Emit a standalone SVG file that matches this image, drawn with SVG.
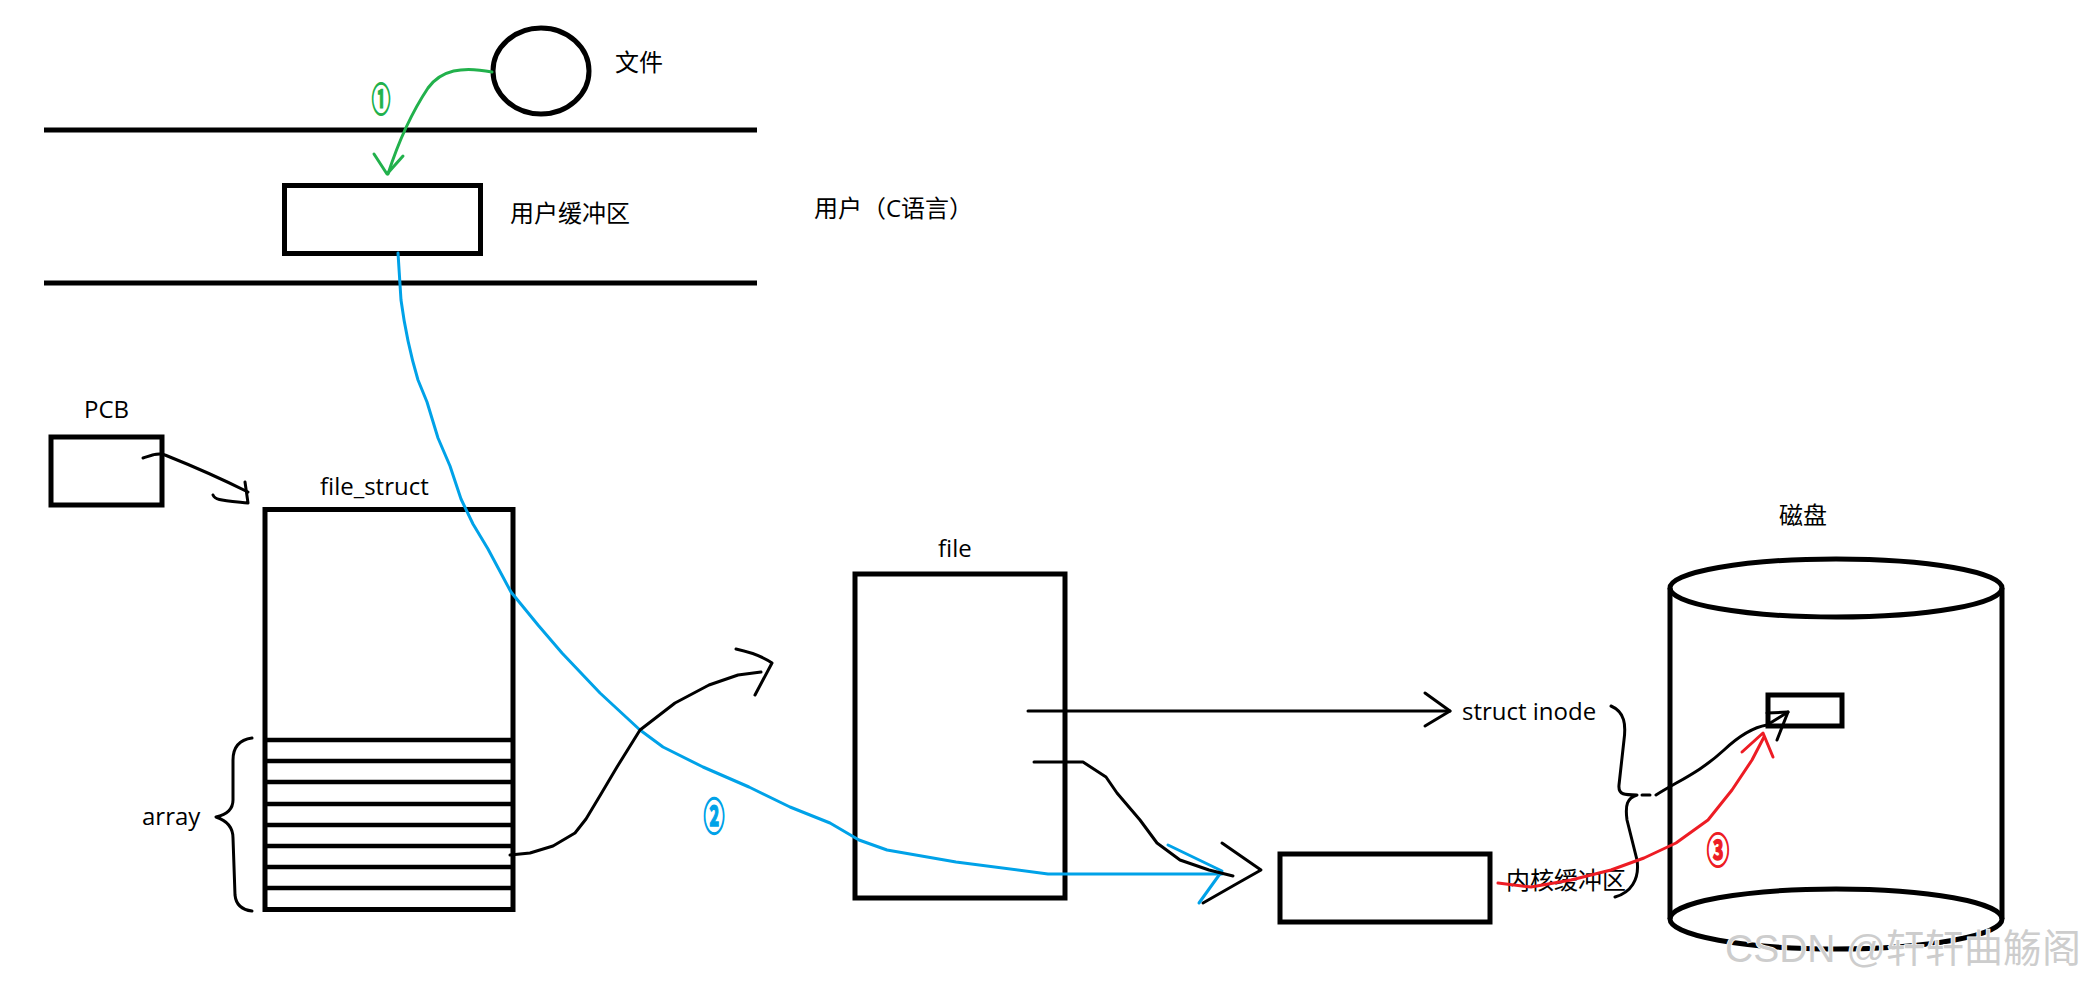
<svg xmlns="http://www.w3.org/2000/svg" width="2082" height="986" viewBox="0 0 2082 986">
<style>
.box{fill:none;stroke:#000;stroke-width:5}
.thin{fill:none;stroke:#000;stroke-width:3;stroke-linejoin:round;stroke-linecap:round}
.g{fill:none;stroke:#22b14c;stroke-width:3;stroke-linejoin:round;stroke-linecap:round}
.b{fill:none;stroke:#00a2e8;stroke-width:3;stroke-linejoin:round;stroke-linecap:round}
.r{fill:none;stroke:#ed1c24;stroke-width:3;stroke-linejoin:round;stroke-linecap:round}
.t{font-family:"Open Sans","Noto Sans CJK SC",sans-serif;font-size:24px;fill:#000}
.n{font-family:"Noto Sans CJK SC",sans-serif;font-size:30px;font-weight:700;text-anchor:middle;dominant-baseline:central;stroke-width:1.2}
.wm{font-family:"Liberation Sans","Noto Sans CJK SC",sans-serif;font-size:39px;fill:#cdcdcd;stroke:#fff;stroke-width:1.5;paint-order:stroke}
</style>
<rect width="2082" height="986" fill="#fff"/>

<g id="user-space">
<line x1="44" y1="130" x2="757" y2="130" stroke="#000" stroke-width="5"/>
<line x1="44" y1="283" x2="757" y2="283" stroke="#000" stroke-width="5"/>
<text class="t" x="814" y="217">用户（C语言）</text>
</g>

<g id="file-disk">
<ellipse cx="541" cy="71" rx="48" ry="43" class="box"/>
<text class="t" x="615" y="71">文件</text>
</g>

<g id="user-buffer">
<rect x="284.5" y="185.5" width="196" height="68" class="box"/>
<text class="t" x="510" y="222">用户缓冲区</text>
</g>

<g id="pcb">
<text class="t" x="84" y="418">PCB</text>
<rect x="51" y="437" width="111" height="68" class="box"/>
</g>

<g id="file_struct">
<text class="t" x="320" y="495">file_struct</text>
<rect x="265" y="509.5" width="248" height="400" class="box"/>
<g stroke="#000" stroke-width="4.5">
<line x1="265" y1="740" x2="513" y2="740"/>
<line x1="265" y1="761" x2="513" y2="761"/>
<line x1="265" y1="782" x2="513" y2="782"/>
<line x1="265" y1="804" x2="513" y2="804"/>
<line x1="265" y1="825" x2="513" y2="825"/>
<line x1="265" y1="846" x2="513" y2="846"/>
<line x1="265" y1="867" x2="513" y2="867"/>
<line x1="265" y1="888" x2="513" y2="888"/>
</g>
<path class="thin" d="M252,738 C238,740 233,748 233,760 L233,800 C233,810 225,815 216,817 C225,820 233,826 233,838 L235,895 C236,905 243,910 252,911"/>
<text class="t" x="142" y="825">array</text>
</g>

<g id="file">
<text class="t" x="938" y="557">file</text>
<rect x="855" y="574" width="210" height="324" class="box"/>
</g>

<g id="struct-inode">
<text class="t" x="1462" y="720">struct inode</text>
<path class="thin" d="M1611,706 C1625,712 1626,725 1624,740 L1619,785 C1618,795 1625,795 1637,795 C1627,798 1625,805 1627,820 L1637,860 C1640,880 1630,893 1615,897"/>
</g>

<g id="kernel-buffer">
<rect x="1280" y="854" width="210" height="68" class="box"/>
<text class="t" x="1506" y="889">内核缓冲区</text>
</g>

<g id="disk">
<text class="t" x="1779" y="524">磁盘</text>
<line x1="1670" y1="588" x2="1670" y2="919" stroke="#000" stroke-width="5"/>
<line x1="2002" y1="588" x2="2002" y2="919" stroke="#000" stroke-width="5"/>
<ellipse cx="1836" cy="588" rx="166" ry="29" class="box"/>
<ellipse cx="1836" cy="919" rx="166" ry="30" class="box"/>
<rect x="1768" y="695" width="74" height="31" class="box"/>
</g>

<g id="connectors">
<path class="g" d="M492,72 C462,66 441,70 428,88 C412,112 399,140 388,174"/>
<path class="g" d="M374,154 L387,174 L403,156"/>
<text class="n" fill="#22b14c" stroke="#22b14c" transform="translate(381,97) scale(0.62,1.15)">①</text>

<path class="thin" d="M143,458 C150,456 158,452 165,455 C190,465 220,478 248,492"/>
<path class="thin" d="M245,482 L248,503 M213,495 C215,500 220,500 248,503"/>

<path class="b" d="M398,253 L401,300 C405,330 412,360 418,380 L427,402 L438,438 L450,466 L461,499 L473,524 L488,549 L511,592 L538,625 L562,653 L600,693 L640,730 L663,747 L703,767 L749,787 L790,807 L830,823 L859,840 L887,850 L956,862 L1048,874 L1222,874"/>
<path class="b" d="M1168,845 L1222,871 L1199,903"/>
<text class="n" fill="#00a2e8" stroke="#00a2e8" transform="translate(714,814) scale(0.7,1.25)">②</text>

<path class="thin" d="M510,855 L530,853 L553,846 L575,833 L586,819 L601,794 L617,767 L640,730 L675,703 L709,685 L738,675 L761,672"/>
<path class="thin" d="M736,649 C750,652 762,656 772,663 L755,695"/>

<path class="thin" d="M1028,711 L1450,711"/>
<path class="thin" d="M1425,693 L1450,711 L1425,726"/>

<path class="thin" d="M1034,762 L1083,762 L1106,777 L1117,793 L1140,820 L1157,843 L1180,860 L1209,870 L1233,876"/>
<path class="thin" d="M1222,843 L1261,870 L1238,883 L1203,903"/>

<path class="thin" d="M1642,795 L1650,795 M1656,795 C1680,780 1700,772 1724,750 C1740,735 1755,727 1767,725 L1788,712"/>
<path class="thin" d="M1767,713 L1788,712 L1777,740"/>

<path class="r" d="M1498,883 L1531,887 L1571,880 L1611,870 L1644,858 L1676,843 L1708,820 L1732,790 L1752,760 L1764,737"/>
<path class="r" d="M1742,752 L1763,733 L1773,757"/>
<text class="n" fill="#ed1c24" stroke="#ed1c24" transform="translate(1718,848) scale(0.75,1.2)">③</text>
</g>

<text class="wm" x="1725" y="962">CSDN @轩轩曲觞阁</text>
</svg>
